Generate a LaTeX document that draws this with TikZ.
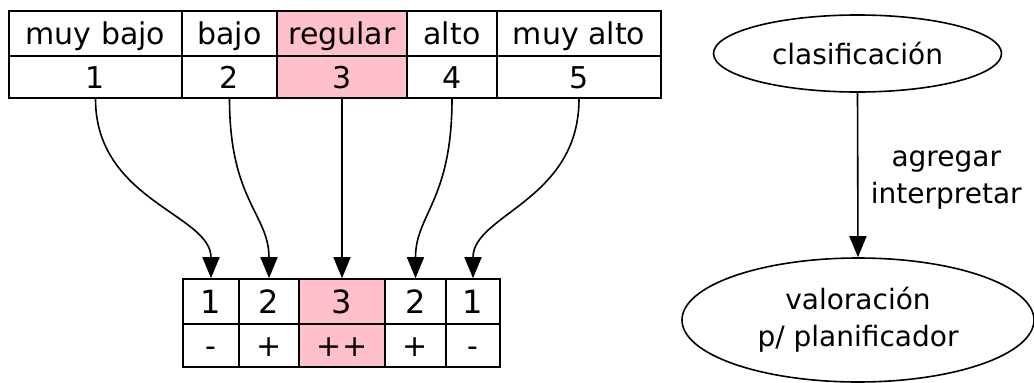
\documentclass[tikz,border=0pt]{standalone}
\usepackage{fontspec}
\setmainfont{DejaVu Sans}
\usetikzlibrary{arrows.meta,shapes.geometric}
\definecolor{cellpink}{HTML}{FFC0CB}
\begin{document}
\begin{tikzpicture}[x=1pt,y=-1pt,
  every node/.style={font=\fontsize{28}{37}\selectfont},
  cell/.style={draw,line width=1.6pt,rectangle,inner sep=0pt,
    font=\fontsize{30}{37}\selectfont,text height=22.5pt,text depth=0pt},
  big/.style={font=\fontsize{32}{37}\selectfont,text height=24pt},
  hot/.style={fill=cellpink},
  oval/.style={draw,line width=1.6pt,ellipse,inner sep=0pt,align=center},
  link/.style={line width=1.6pt,-{Triangle[length=21pt,width=17pt]}}]
\useasboundingbox (0,0) rectangle (1034,383);

% scale table: names and values
\node[cell,minimum width=173,minimum height=45] (h1) at (95.5,33.5) {muy bajo};
\node[cell,minimum width=95,minimum height=45]  (h2) at (229.5,33.5) {bajo};
\node[cell,hot,minimum width=130,minimum height=45] (h3) at (342,33.5) {regular};
\node[cell,minimum width=90,minimum height=45]  (h4) at (452,33.5) {alto};
\node[cell,minimum width=164,minimum height=45] (h5) at (579,33.5) {muy alto};
\node[cell,minimum width=173,minimum height=42] (t1) at (95.5,77) {1};
\node[cell,minimum width=95,minimum height=42]  (t2) at (229.5,77) {2};
\node[cell,hot,minimum width=130,minimum height=42] (t3) at (342,77) {3};
\node[cell,minimum width=90,minimum height=42]  (t4) at (452,77) {4};
\node[cell,minimum width=164,minimum height=42] (t5) at (579,77) {5};

% folded table: weights and signs
\node[cell,big,minimum width=56,minimum height=45] (b1) at (211,301.5) {1};
\node[cell,big,minimum width=60,minimum height=45] (b2) at (269,301.5) {2};
\node[cell,big,hot,minimum width=86,minimum height=45] (b3) at (342,301.5) {3};
\node[cell,big,minimum width=61,minimum height=45] (b4) at (415.5,301.5) {2};
\node[cell,big,minimum width=54,minimum height=45] (b5) at (473,301.5) {1};
\node[cell,minimum width=56,minimum height=43] (s1) at (211,345.5) {-};
\node[cell,minimum width=60,minimum height=43] (s2) at (269,345.5) {+};
\node[cell,hot,minimum width=86,minimum height=43] (s3) at (342,345.5) {++};
\node[cell,minimum width=61,minimum height=43] (s4) at (415.5,345.5) {+};
\node[cell,minimum width=54,minimum height=43] (s5) at (473,345.5) {-};

% mapping of scale values onto weights
\draw[link] (t1.south) .. controls +(0,102) and +(0,-64) .. (b1.north);
\draw[link] (t2.south) .. controls +(0,102) and +(0,-64) .. (b2.north);
\draw[link] (t3.south) -- (b3.north);
\draw[link] (t4.south) .. controls +(0,102) and +(0,-64) .. (b4.north);
\draw[link] (t5.south) .. controls +(0,102) and +(0,-64) .. (b5.north);

% aggregation step
\node[oval,minimum width=288,minimum height=77] (clas) at (857.5,53.5) {clasificación};
\node[oval,minimum width=352,minimum height=124] (val) at (858,320) {valoración\\p/ planificador};
\draw[link] (clas.south) -- (val.north)
  node[pos=0.53,anchor=west,align=center,xshift=9pt] (lbl) {agregar\\interpretar};
\end{tikzpicture}
\end{document}
